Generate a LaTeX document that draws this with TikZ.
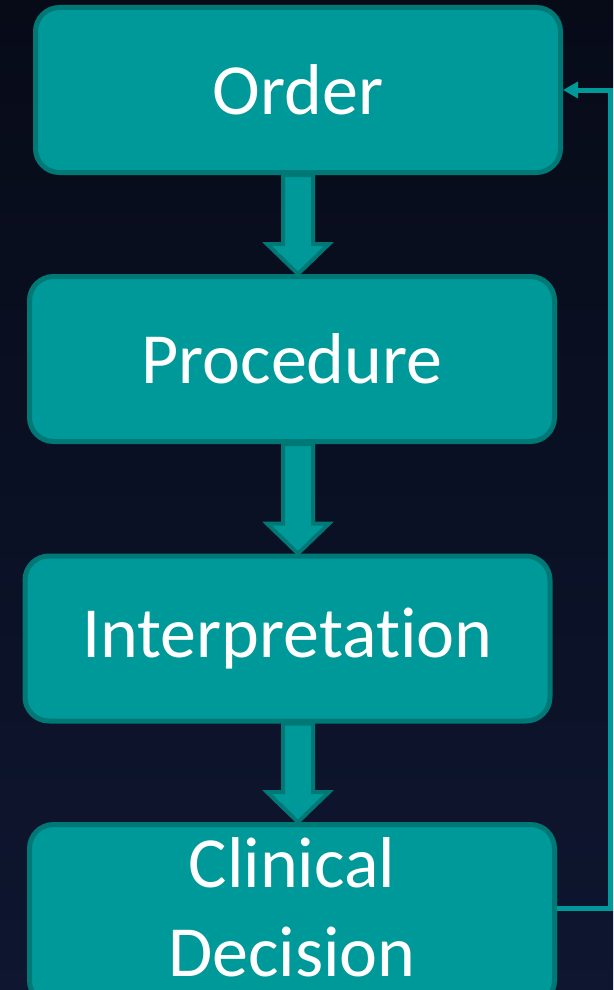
\documentclass[tikz,border=0pt]{standalone}
\usepackage{fontspec}
\setmainfont{Carlito}[Ligatures=CommonOff]
\usetikzlibrary{arrows.meta,calc}
\definecolor{boxteal}{RGB}{0,153,153}
\definecolor{edgeteal}{RGB}{0,120,118}
\definecolor{bgtop}{RGB}{7,11,24}
\definecolor{bgbot}{RGB}{14,22,48}

\begin{document}
\begin{tikzpicture}[x=1pt,y=-1pt,
  stage/.style={draw=edgeteal,fill=boxteal,line width=5pt,rounded corners=24pt,
    minimum width=525pt,minimum height=165pt,inner sep=0pt,text=white,
    font=\fontsize{72}{89}\selectfont,align=center},
  fat/.style={draw=edgeteal,fill=boxteal,line width=4pt,line join=miter,
    to path={let \p1=(\tikztostart),\p2=(\tikztotarget) in
      (\x1-15pt,\y1) -- (\x1-15pt,\y2+30pt) -- (\x1-31pt,\y2+30pt) -- (\x1,\y2)
      -- (\x1+31pt,\y2+30pt) -- (\x1+15pt,\y2+30pt) -- (\x1+15pt,\y1) -- cycle}},
  backline/.style={draw=boxteal,line width=5pt,-{Triangle[width=16pt,length=15pt]}}]
\useasboundingbox (0,0) rectangle (613,990);
\shade[top color=bgtop,bottom color=bgbot] (0,0) rectangle (613,990);

% the four stages
\node[stage] (order) at (298,90) {Order};
\node[stage] (proc) at (292,359) {Procedure};
\node[stage] (interp) at (287.5,638.5) {Interpretation};
\node[stage,minimum height=180pt] (decision) at (292,914.5)
  {Clinical\\Decision\rule[-15pt]{0pt}{15pt}};

% block arrows down the middle
\coordinate (axis) at (298,0);
\draw[fat] (order.south -| axis) to (proc.north -| axis);
\draw[fat] (proc.south -| axis) to (interp.north -| axis);
\draw[fat] (interp.south -| axis) to (decision.north -| axis);

% feedback back to the order
\coordinate (rail) at (610,0);
\draw[backline] (decision.east |- 0,908) -| (rail |- order.east) -- (order.east);
\end{tikzpicture}
\end{document}
